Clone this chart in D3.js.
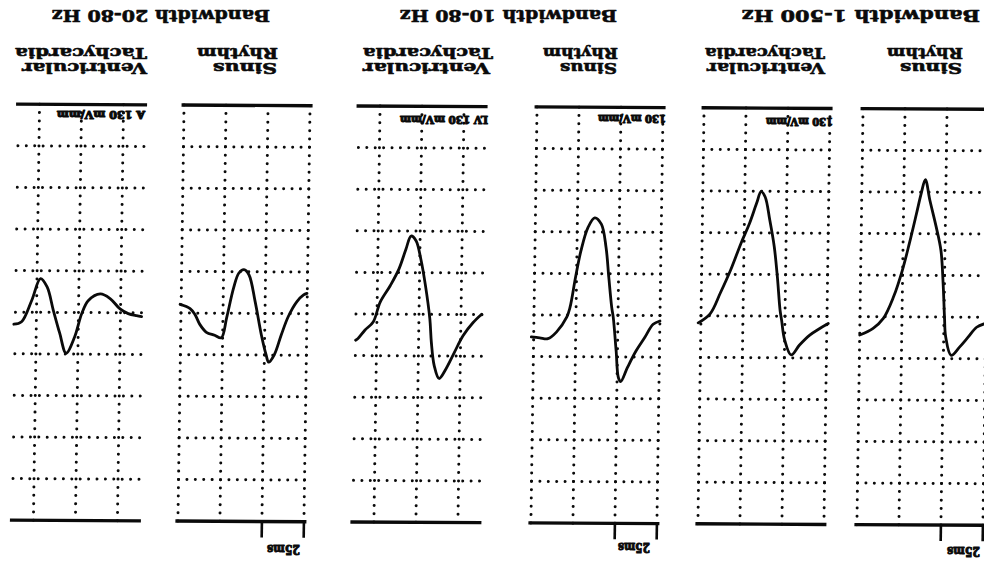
<!DOCTYPE html>
<html><head><meta charset="utf-8">
<script src="https://cdn.jsdelivr.net/npm/d3@7/dist/d3.min.js"></script>
<style>html,body{margin:0;padding:0;background:#fff;overflow:hidden}svg{display:block}</style>
</head><body>
<script>
// ---------------- data ----------------
const bandwidthLabels = ["Bandwidth 1-500 Hz", "Bandwidth 10-80 Hz", "Bandwidth 20-80 Hz"];
const rhythmLabels = [["Sinus", "Rhythm"], ["Ventricular", "Tachycardia"]];
const gainLabels = ["", "130 mV/mm", "130 mV/mm", "LV 130 mV/mm", "", "A 130 mV/mm"];
const scaleBarLabel = "25ms";
const timeDomainMs = [0, 75];
const ampDomainDiv = [-5, 5];
const gridTimesEdge = [0, 25, 50, 75];
const gridTimesMid = [12.5, 37.5, 62.5];
const gridAmps = [-4, -3, -2, -1, 0, 1, 2, 3, 4];
const scaleBarTimes = [0, 25];

// Sinus rhythm, 1-500 Hz
const sr500Time = [1.2, 5.5, 10.5, 15.5, 20.4, 23.8, 24.7, 25.8, 27.4, 30.4, 34.4, 37.3, 39.7, 42.3, 46.3, 50.2, 55.2, 61.1, 67.1, 75.0];
const sr500Amp  = [0.16, 0.24, 0.48, 0.72, 0.92, 0.48, 0.00, -0.80, -1.60, -2.16, -2.80, -3.30, -2.96, -2.48, -1.76, -1.12, -0.48, 0.04, 0.28, 0.44];
// Ventricular tachycardia, 1-500 Hz
const vt500Time = [-0.8, 4.2, 10.1, 16.1, 21.0, 25.0, 27.0, 28.0, 29.9, 32.0, 34.9, 37.9, 40.3, 42.9, 46.9, 51.8, 57.7, 63.7, 69.6, 76.6];
const vt500Amp  = [0.17, 0.29, 0.45, 0.69, 0.93, 0.57, 0.09, -0.15, -0.95, -1.67, -2.31, -2.87, -2.99, -2.71, -2.23, -1.75, -1.11, -0.55, -0.05, 0.17];
// Sinus rhythm, 10-80 Hz
const sr1080Time = [0, 4.0, 8.9, 13.9, 18.9, 22.8, 24.2, 25.8, 27.8, 28.8, 30.8, 32.7, 35.7, 39.7, 43.6, 47.6, 50.6, 53.6, 55.5, 61.5, 66.5, 71.4, 76.4];
const sr1080Amp  = [0.13, 0.21, 0.53, 0.85, 1.25, 1.59, 1.50, 0.85, 0.05, -0.19, -0.91, -1.63, -2.19, -2.34, -2.11, -1.55, -0.91, -0.19, 0.05, 0.41, 0.57, 0.55, 0.53];
// Ventricular tachycardia, 10-80 Hz
const vt1080Time = [0.2, 5.2, 11.1, 16.1, 21.0, 25.0, 28.0, 29.9, 31.0, 33.9, 36.9, 39.9, 42.9, 45.8, 49.8, 54.8, 60.7, 64.7, 69.6, 73.6, 75.0];
const vt1080Amp  = [-0.01, 0.19, 0.51, 0.91, 1.31, 1.54, 1.23, 0.67, 0.11, -0.69, -1.33, -1.77, -1.88, -1.57, -1.09, -0.69, -0.29, 0.19, 0.39, 0.59, 0.63];
// Sinus rhythm, 20-80 Hz
const sr2080Time = [0.2, 2.2, 6.1, 11.1, 15.1, 19.1, 22.4, 24.0, 27.0, 31.0, 34.9, 37.9, 40.9, 43.9, 47.8, 50.8, 54.8, 59.7, 63.7, 66.7, 69.6, 75.6];
const sr2080Amp  = [-0.49, -0.45, -0.29, 0.07, 0.51, 0.99, 1.17, 0.99, 0.51, -0.29, -0.93, -1.05, -0.97, -0.61, 0.11, 0.59, 0.53, 0.46, 0.27, 0.03, -0.11, -0.21];
// Ventricular tachycardia, 20-80 Hz
const vt2080Time = [-0.1, 2.9, 7.9, 12.8, 18.8, 24.7, 31.7, 35.6, 39.6, 44.5, 48.5, 52.5, 56.4, 60.4, 65.4, 71.3, 75.9];
const vt2080Amp  = [0.09, 0.07, 0.02, -0.09, -0.34, -0.45, -0.29, 0.03, 0.59, 0.98, 0.50, -0.05, -0.61, -0.81, -0.29, 0.23, 0.29];

// ---------------- layout ----------------
const W = 984, H = 562;
const panelW = 126, vTop = 41.5, vBottom = 457.5;
const panels = [
  {time: sr500Time,  amp: sr500Amp,  left: -2,    grid: "edge", bar: true,  gain: gainLabels[0]},
  {time: vt500Time,  amp: vt500Amp,  left: 157,   grid: "edge", bar: false, gain: gainLabels[1]},
  {time: sr1080Time, amp: sr1080Amp, left: 324,   grid: "edge", bar: true,  gain: gainLabels[2]},
  {time: vt1080Time, amp: vt1080Amp, left: 502,   grid: "mid",  bar: false, gain: gainLabels[3]},
  {time: sr2080Time, amp: sr2080Amp, left: 677,   grid: "edge", bar: true,  gain: gainLabels[4]},
  {time: vt2080Time, amp: vt2080Amp, left: 842.5, grid: "mid",  bar: false, gain: gainLabels[5]}
];

const svg = d3.select("body").append("svg").attr("width", W).attr("height", H);
svg.append("rect").attr("width", W).attr("height", H).attr("fill", "#fff");

// the figure is printed upside down (and a little skewed)
const fig = svg.append("g").attr("transform", "matrix(-1,-0.0053,0.0148,-1,980.3,566.8)");

const ink = "#0a0a0a";
panels.forEach(p => {
  const x = d3.scaleLinear().domain(timeDomainMs).range([p.left, p.left + panelW]);
  const y = d3.scaleLinear().domain(ampDomainDiv).range([vBottom, vTop]);
  const g = fig.append("g");
  const vt = p.grid === "edge" ? gridTimesEdge : gridTimesMid;
  g.selectAll("line.v").data(vt).join("line")
    .attr("x1", d => x(d)).attr("x2", d => x(d))
    .attr("y1", y(ampDomainDiv[0])).attr("y2", y(ampDomainDiv[1]))
    .attr("stroke", ink).attr("stroke-width", 3).attr("stroke-linecap", "round")
    .attr("stroke-dasharray", "0 " + ((vBottom - vTop) / 50));
  g.selectAll("line.h").data(gridAmps).join("line")
    .attr("x1", x(timeDomainMs[0])).attr("x2", x(timeDomainMs[1]))
    .attr("y1", d => y(d)).attr("y2", d => y(d))
    .attr("stroke", ink).attr("stroke-width", 3).attr("stroke-linecap", "round")
    .attr("stroke-dasharray", "0 " + (panelW / 15));
  // solid frame rules (top and bottom)
  g.selectAll("line.r").data(ampDomainDiv).join("line")
    .attr("x1", x(timeDomainMs[0]) - 2.5).attr("x2", x(timeDomainMs[1]) + 2.5)
    .attr("y1", d => y(d)).attr("y2", d => y(d))
    .attr("stroke", ink).attr("stroke-width", 3.4);
  // scale bar ticks
  if (p.bar) {
    g.selectAll("line.t").data(scaleBarTimes).join("line")
      .attr("x1", d => x(d)).attr("x2", d => x(d))
      .attr("y1", y(ampDomainDiv[1])).attr("y2", y(ampDomainDiv[1]) - 16)
      .attr("stroke", ink).attr("stroke-width", 2.6);
  }
  // waveform
  const pts = p.time.map((t, i) => ({t, a: p.amp[i]}));
  const line = d3.line().x(d => x(d.t)).y(d => y(d.a)).curve(d3.curveCatmullRom.alpha(0.5));
  g.append("path").attr("d", line(pts)).attr("fill", "none")
    .attr("stroke", ink).attr("stroke-width", 2.8)
    .attr("stroke-linejoin", "round").attr("stroke-linecap", "round");
});

// ---------- text (upside-down, positioned on the page) ----------
const font = "'DejaVu Serif', 'Liberation Serif', serif";
function flipped(str, xRight, yBase, len, size, heavy) {
  svg.append("text").text(str)
    .attr("transform", `translate(${xRight},${yBase}) rotate(180)`)
    .attr("font-family", font).attr("font-weight", "bold").attr("font-size", size)
    .attr("fill", ink).attr("stroke", ink).attr("stroke-width", heavy)
    .attr("stroke-linejoin", "round")
    .attr("textLength", len).attr("lengthAdjust", "spacingAndGlyphs");
}
// titles
flipped(bandwidthLabels[0], 980, 10, 238, 17, 0.6);
flipped(bandwidthLabels[1], 617, 10, 217, 17, 0.6);
flipped(bandwidthLabels[2], 270, 10, 218, 17, 0.6);
// panel headings
const heads = [
  {lab: rhythmLabels[0], xr: [962, 963], len: [62, 76]},
  {lab: rhythmLabels[1], xr: [825, 825], len: [118, 120]},
  {lab: rhythmLabels[0], xr: [617, 618], len: [57, 75]},
  {lab: rhythmLabels[1], xr: [490, 493], len: [127, 130]},
  {lab: rhythmLabels[0], xr: [277, 278], len: [64, 81]},
  {lab: rhythmLabels[1], xr: [147, 147], len: [125, 132]}
];
heads.forEach(h => {
  flipped(h.lab[0], h.xr[0], 63, h.len[0], 15.5, 0.6);
  flipped(h.lab[1], h.xr[1], 48, h.len[1], 15.5, 0.6);
});
// gain labels
const gainPos = [null, {x: 833, y: 118, len: 67}, {x: 666, y: 115, len: 68}, {x: 488, y: 116, len: 88}, null, {x: 145, y: 111, len: 88}];
panels.forEach((p, i) => {
  if (p.gain && gainPos[i]) flipped(p.gain, gainPos[i].x, gainPos[i].y, gainPos[i].len, 10.5, 1.1);
});
// scale bar labels
flipped(scaleBarLabel, 980, 547, 33, 12.5, 1.0);
flipped(scaleBarLabel, 650, 543, 32, 12.5, 1.0);
flipped(scaleBarLabel, 300, 545, 33, 12.5, 1.0);
</script>
</body></html>
